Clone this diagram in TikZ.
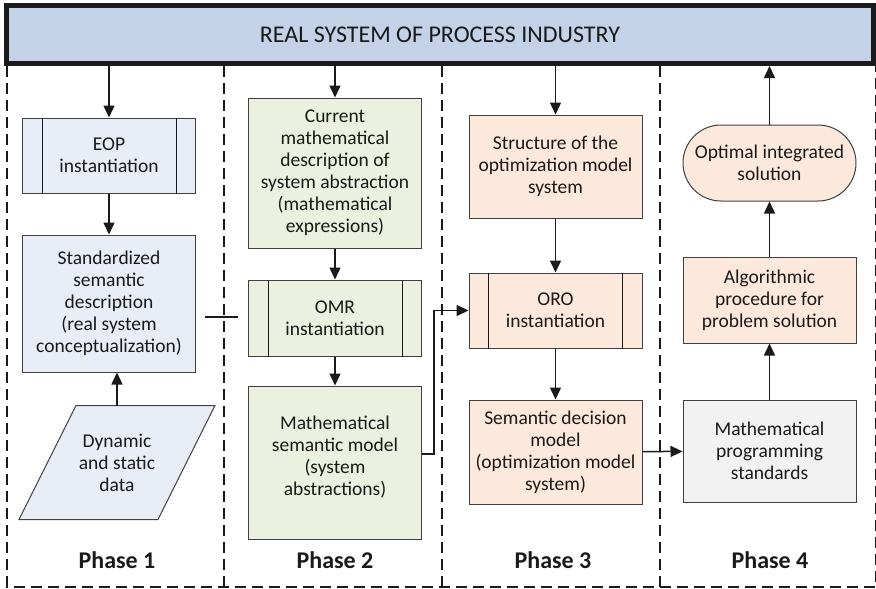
\documentclass[tikz,border=0pt]{standalone}
\usepackage{fontspec}
\setmainfont{Carlito}
\usetikzlibrary{arrows.meta,shapes.misc,backgrounds}

\definecolor{barfill}{HTML}{C3D2E7}
\definecolor{bluefill}{HTML}{E9EDF6}
\definecolor{greenfill}{HTML}{EBF1DE}
\definecolor{peachfill}{HTML}{FCE9DC}
\definecolor{grayfill}{HTML}{F2F2F2}
\definecolor{edge}{HTML}{404040}
\definecolor{ink}{HTML}{1A1A1A}

\newcommand{\boxfont}{\fontsize{19.5}{22}\selectfont}

\tikzset{
  box/.style={draw=edge, line width=1pt, minimum width=173pt, align=center,
    inner sep=0pt, font=\boxfont, text=ink},
  flow/.style={draw=ink, line width=1.5pt, -{Triangle[length=12pt,width=11pt]}},
  link/.style={draw=ink, line width=1.5pt},
  divider/.style={draw=ink, line width=2pt, dash pattern=on 11pt off 6pt},
  phase/.style={font=\fontsize{24}{28}\selectfont\bfseries, text=ink}
}

\begin{document}
\begin{tikzpicture}[x=1pt,y=-1pt]
\useasboundingbox (0,0) rectangle (876,589);

% phase columns
\draw[divider] (7,66) -- (7,586.5) -- (875.5,586.5) -- (875.5,66);
\foreach \x in {224,442,660}
  \draw[divider] (\x,66) -- (\x,586.5);

\node[draw=ink, line width=5pt, fill=barfill, minimum width=867pt, minimum height=58pt,
  font=\fontsize{24}{28}\selectfont, text=ink] (bar) at (440,34.5) {REAL SYSTEM OF PROCESS INDUSTRY};

% phase 1
\node[box, fill=bluefill, minimum height=75pt] (eop) at (109,155.5) {EOP\\instantiation};
\node[box, fill=bluefill, minimum height=137pt] (std) at (109,303.5)
  {Standardized\\semantic\\description\\(real system\\conceptualization)};
\node[box, draw=none, minimum width=138pt, minimum height=113pt] (dyn) at (117,462.5)
  {Dynamic\\and static\\data};
\begin{scope}[on background layer]
\draw[draw=edge, line width=1pt, fill=bluefill]
  ([xshift=28.5pt]dyn.north west) -- ([xshift=28.5pt]dyn.north east)
  -- ([xshift=-28.5pt]dyn.south east) -- ([xshift=-28.5pt]dyn.south west) -- cycle;
\end{scope}

% phase 2
\node[box, fill=greenfill, minimum height=150pt] (cur) at (335,173)
  {Current\\mathematical\\description of\\system abstraction\\(mathematical\\expressions)};
\node[box, fill=greenfill, minimum height=76pt] (omr) at (335,318) {OMR\\instantiation};
\node[box, fill=greenfill, minimum height=153pt, text depth=14pt] (msm) at (335,462.5)
  {Mathematical\\semantic model\\(system\\abstractions)};

% phase 3
\node[box, fill=peachfill, minimum height=103pt] (struct) at (555.5,166.5)
  {Structure of the\\optimization model\\system};
\node[box, fill=peachfill, minimum height=75pt] (oro) at (555.5,310.5) {ORO\\instantiation};
\node[box, fill=peachfill, minimum height=104pt] (sdm) at (555.5,452)
  {Semantic decision\\model\\(optimization model\\system)};

% phase 4
\node[box, rounded rectangle, fill=peachfill, minimum height=76pt] (opt) at (769.5,163)
  {Optimal integrated\\solution};
\node[box, fill=peachfill, minimum height=86pt] (alg) at (769.5,300)
  {Algorithmic\\procedure for\\problem solution};
\node[box, fill=grayfill, minimum height=102pt] (mps) at (769.5,451)
  {Mathematical\\programming\\standards};

\foreach \n in {eop,omr,oro}{
  \draw[draw=ink, line width=1pt] ([xshift=20pt]\n.north west) -- ([xshift=20pt]\n.south west);
  \draw[draw=ink, line width=1pt] ([xshift=-20pt]\n.north east) -- ([xshift=-20pt]\n.south east);
}

\node[phase] (ph1) at (117,560) {Phase 1};
\node[phase] (ph2) at (335,560) {Phase 2};
\node[phase] (ph3) at (553,560) {Phase 3};
\node[phase] (ph4) at (770,560) {Phase 4};

% connectors
\draw[flow] (bar.south -| eop.north) -- (eop.north);
\draw[flow] (eop) -- (std);
\draw[flow] (dyn.north) -- (dyn.north |- std.south);
\draw[flow] (bar.south -| cur.north) -- (cur.north);
\draw[flow] (cur) -- (omr);
\draw[flow] (omr) -- (msm);
\draw[flow] (bar.south -| struct.north) -- (struct.north);
\draw[flow] (struct) -- (oro);
\draw[flow] (oro) -- (sdm);
\draw[flow] ([yshift=8.5pt]msm.east) -- ++(12,0) |- (oro.west);
\draw[flow] (sdm) -- (mps);
\draw[flow] (mps) -- (alg);
\draw[flow] (alg) -- (opt);
\draw[flow] (opt.north) -- (opt.north |- bar.south);

\coordinate (stubL) at (205,317);
\coordinate (stubR) at (238,317);
\draw[link] (stubL) -- (stubR);
\end{tikzpicture}
\end{document}
